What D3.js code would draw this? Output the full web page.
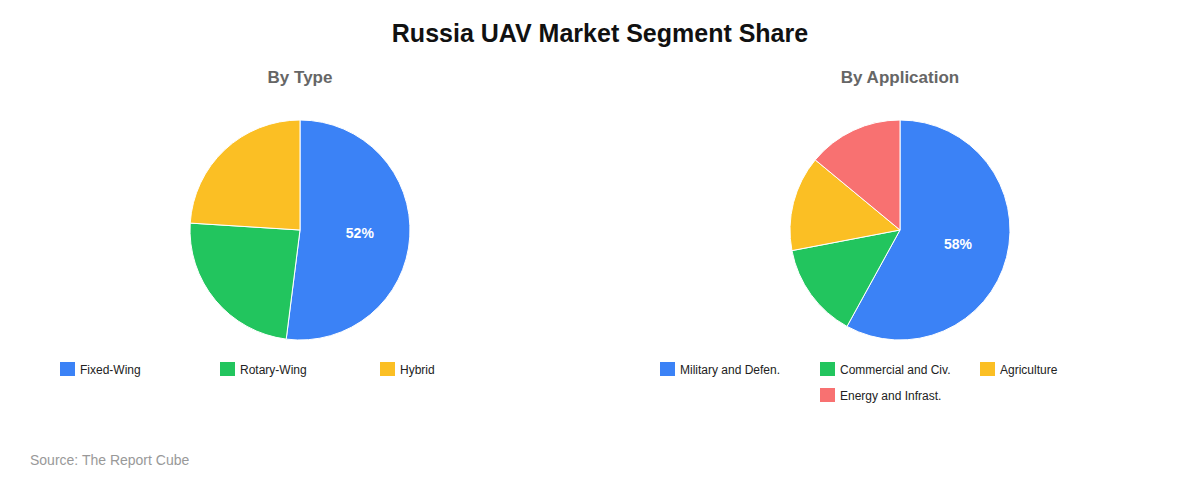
<!DOCTYPE html>
<html><head><meta charset="utf-8">
<script src="https://cdn.jsdelivr.net/npm/d3@7"></script>
<style>body{margin:0;background:#fff;font-family:"Liberation Sans",Arial,sans-serif;}</style>
</head><body><svg id="c" width="1200" height="480"></svg>
<script>
const typeCategories = ["Fixed-Wing", "Rotary-Wing", "Hybrid"];
const typeValues = [52, 24, 24];
const appCategories = ["Military and Defen.", "Commercial and Civ.", "Agriculture", "Energy and Infrast."];
const appValues = [58, 14, 14, 14];
const colors = ["#3b82f6", "#22c55e", "#fbbf24", "#f87171"];

const svg = d3.select("#c");
svg.append("rect").attr("width",1200).attr("height",480).attr("fill","#fff");
svg.append("text").attr("x",600).attr("y",42).attr("text-anchor","middle")
  .attr("font-size",25).attr("font-weight","bold").attr("fill","#111").text("Russia UAV Market Segment Share");
svg.append("text").attr("x",30).attr("y",465).attr("font-size",14).attr("fill","#999").text("Source: The Report Cube");

function drawPie(cx, title, cats, vals, legendX, legendY) {
  const g = svg.append("g");
  g.append("text").attr("x",cx).attr("y",83).attr("text-anchor","middle")
    .attr("font-size",17).attr("font-weight","bold").attr("fill","#666").text(title);
  const r = 110;
  const pie = d3.pie().sort(null).value(d=>d.v);
  const data = pie(cats.map((c,i)=>({c, v: vals[i], i})));
  const arc = d3.arc().innerRadius(0).outerRadius(r);
  const pg = g.append("g").attr("transform",`translate(${cx},230)`);
  pg.selectAll("path").data(data).enter().append("path")
    .attr("d",arc).attr("fill",d=>colors[d.data.i]).attr("stroke","#fff").attr("stroke-width",1);
  const lab = d3.arc().innerRadius(r*0.545).outerRadius(r*0.545);
  pg.selectAll("text").data(data.filter(d=>d.data.v>=30)).enter().append("text")
    .attr("transform",d=>`translate(${lab.centroid(d)})`).attr("text-anchor","middle").attr("dy","0.3em")
    .attr("font-size",14).attr("font-weight","bold").attr("fill","#fff").text(d=>d.data.v+"%");
  const lg = g.append("g");
  cats.forEach((c,i)=>{
    const col = i % 3, row = Math.floor(i/3);
    const x = row === 0 ? legendX + col*160 : legendX + 160;
    const y = legendY + row*26;
    lg.append("rect").attr("x",x).attr("y",y-7).attr("width",15).attr("height",14).attr("fill",colors[i]);
    lg.append("text").attr("x",x+20).attr("y",y).attr("dy","0.38em").attr("font-size",12).attr("fill","#222").text(c);
  });
}
drawPie(300, "By Type", typeCategories, typeValues, 60, 369);
drawPie(900, "By Application", appCategories, appValues, 660, 369);
</script></body></html>
